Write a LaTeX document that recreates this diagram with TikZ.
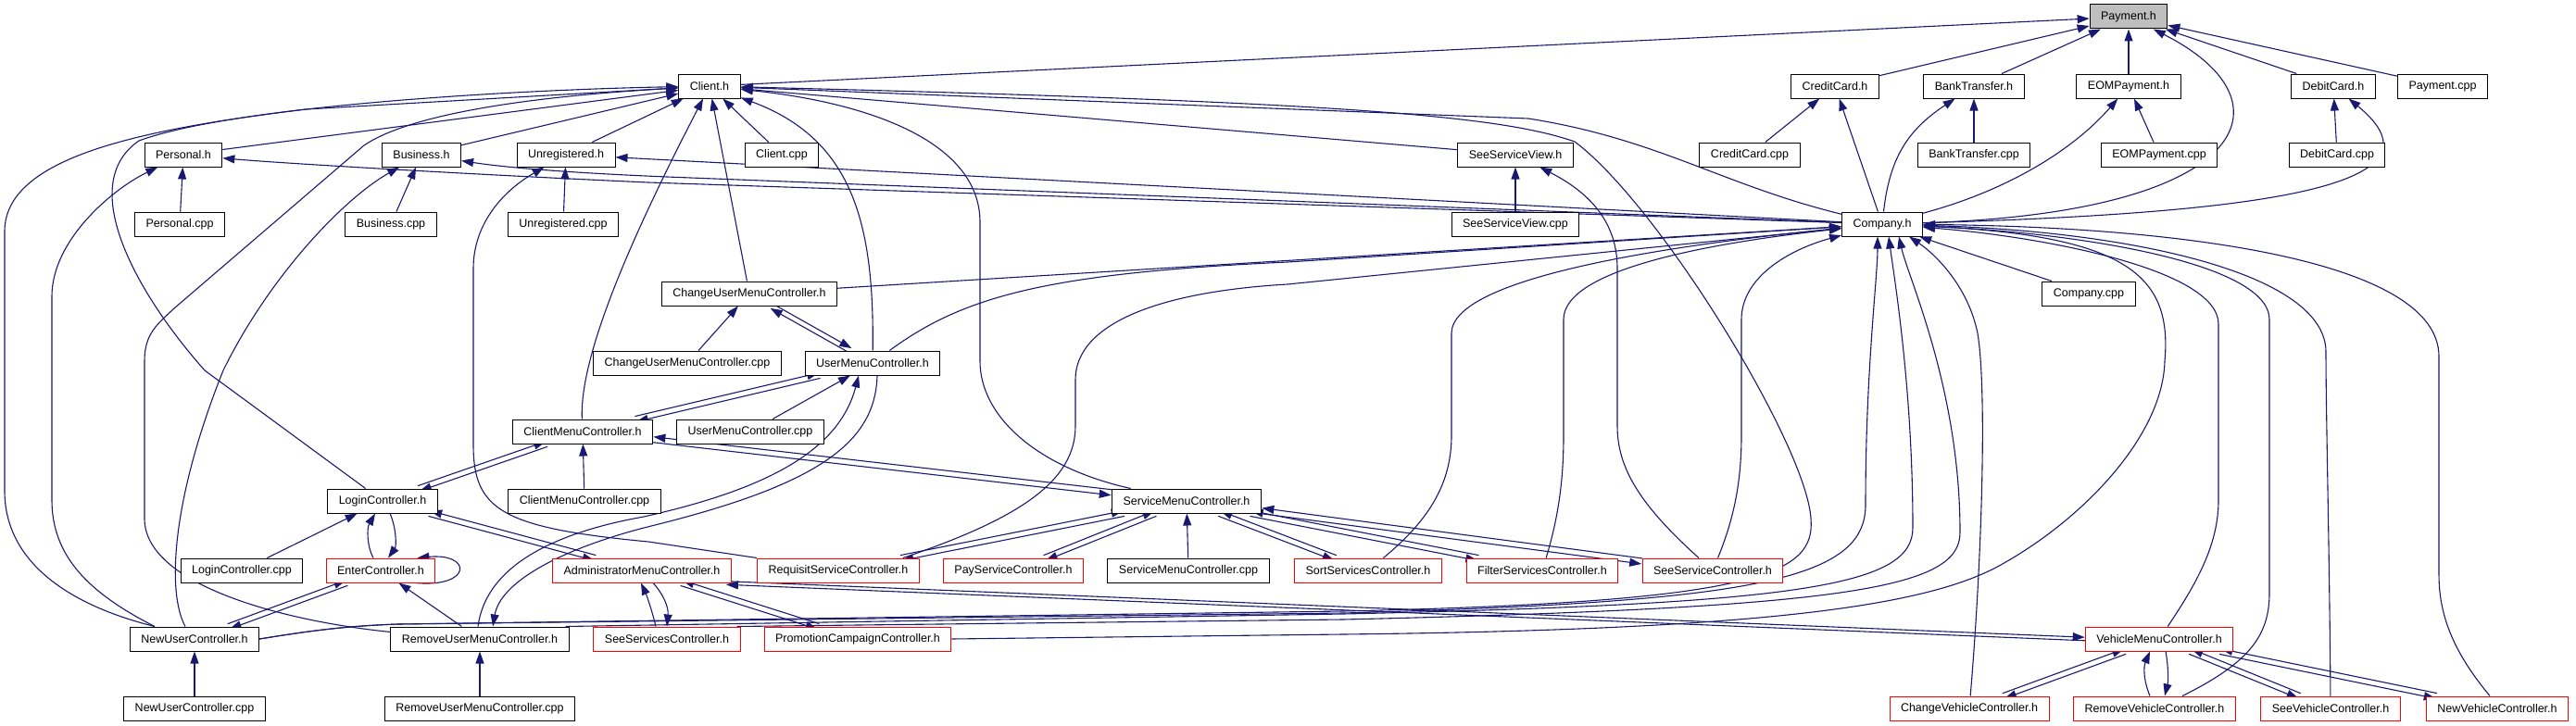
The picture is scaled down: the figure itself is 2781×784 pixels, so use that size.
\documentclass[tikz,border=0pt]{standalone}
\usepackage{fontspec}
\setmainfont{Liberation Sans}
\usetikzlibrary{arrows.meta}
\definecolor{edgeblue}{RGB}{25,25,112}
\definecolor{truncred}{RGB}{255,0,0}
\definecolor{curgray}{RGB}{191,191,191}
\pgfdeclarelayer{edges}
\pgfsetlayers{edges,main}

\begin{document}
\begin{tikzpicture}[
    x=1pt, y=-1pt,
    hfile/.style={draw=black, fill=white, line width=1pt, minimum height=26pt, inner xsep=12pt, inner ysep=0pt, font=\fontsize{12.5}{15}\selectfont},
    redfile/.style={hfile, draw=truncred},
    mainfile/.style={hfile, fill=curgray},
    incl/.style={-{Triangle[length=13pt,width=9pt]}, draw=edgeblue, line width=1.1pt}
  ]
  \useasboundingbox (0,0) rectangle (2781,784);

  \node[mainfile] (paymenth) at (2298,18) {Payment.h};

  \node[hfile] (clienth) at (766,93) {Client.h};
  \node[hfile] (creditcardh) at (1981,93) {CreditCard.h};
  \node[hfile] (banktransferh) at (2131,93) {BankTransfer.h};
  \node[hfile] (eompaymenth) at (2298,93) {EOMPayment.h};
  \node[hfile] (debitcardh) at (2519,93) {DebitCard.h};
  \node[hfile] (paymentcpp) at (2637,93) {Payment.cpp};

  \node[hfile] (personalh) at (198,167) {Personal.h};
  \node[hfile] (businessh) at (455,167) {Business.h};
  \node[hfile] (unregh) at (611,167) {Unregistered.h};
  \node[hfile] (clientcpp) at (844,167) {Client.cpp};
  \node[hfile] (seeviewh) at (1636,167) {SeeServiceView.h};
  \node[hfile] (creditcardcpp) at (1889,167) {CreditCard.cpp};
  \node[hfile] (banktransfercpp) at (2131,167) {BankTransfer.cpp};
  \node[hfile] (eompaymentcpp) at (2331,167) {EOMPayment.cpp};
  \node[hfile] (debitcardcpp) at (2523,167) {DebitCard.cpp};

  \node[hfile] (personalcpp) at (194,242) {Personal.cpp};
  \node[hfile] (businesscpp) at (422,242) {Business.cpp};
  \node[hfile] (unregcpp) at (608,242) {Unregistered.cpp};
  \node[hfile] (seeviewcpp) at (1636,242) {SeeServiceView.cpp};
  \node[hfile] (companyh) at (2032,242) {Company.h};

  \node[hfile] (chusermenuh) at (809,317) {ChangeUserMenuController.h};
  \node[hfile] (companycpp) at (2255,317) {Company.cpp};

  \node[hfile] (chusermenucpp) at (742,392) {ChangeUserMenuController.cpp};
  \node[hfile] (usermenuh) at (942,392) {UserMenuController.h};

  \node[hfile] (clientmenuh) at (629,466) {ClientMenuController.h};
  \node[hfile] (usermenucpp) at (810,466) {UserMenuController.cpp};

  \node[hfile] (loginh) at (413,541) {LoginController.h};
  \node[hfile] (clientmenucpp) at (631,541) {ClientMenuController.cpp};
  \node[hfile] (servicemenuh) at (1281,541) {ServiceMenuController.h};

  \node[hfile] (logincpp) at (261,616) {LoginController.cpp};
  \node[redfile] (enterh) at (411,616) {EnterController.h};
  \node[redfile] (adminh) at (693,616) {AdministratorMenuController.h};
  \node[redfile] (requisith) at (905,616) {RequisitServiceController.h};
  \node[redfile] (payserviceh) at (1094,616) {PayServiceController.h};
  \node[hfile] (servicemenucpp) at (1283,616) {ServiceMenuController.cpp};
  \node[redfile] (sorth) at (1477,616) {SortServicesController.h};
  \node[redfile] (filterh) at (1665,616) {FilterServicesController.h};
  \node[redfile] (seeserviceh) at (1849,616) {SeeServiceController.h};

  \node[hfile] (newuserh) at (210,690) {NewUserController.h};
  \node[hfile] (removeuserh) at (518,690) {RemoveUserMenuController.h};
  \node[redfile] (seeservicesh) at (720,690) {SeeServicesController.h};
  \node[redfile] (promotionh) at (926,690) {PromotionCampaignController.h};
  \node[redfile] (vehiclemenuh) at (2331,690) {VehicleMenuController.h};

  \node[hfile] (newusercpp) at (210,765) {NewUserController.cpp};
  \node[hfile] (removeusercpp) at (518,765) {RemoveUserMenuController.cpp};
  \node[redfile] (changevehh) at (2126,765) {ChangeVehicleController.h};
  \node[redfile] (removevehh) at (2326,765) {RemoveVehicleController.h};
  \node[redfile] (seevehh) at (2516,765) {SeeVehicleController.h};
  \node[redfile] (newvehh) at (2696,765) {NewVehicleController.h};

  \begin{pgfonlayer}{edges}
  % payment headers
  \draw[incl] (clienth) -- (paymenth);
  \draw[incl] (creditcardh) -- (paymenth);
  \draw[incl] (banktransferh) -- (paymenth);
  \draw[incl] (eompaymenth) -- (paymenth);
  \draw[incl] (debitcardh) -- (paymenth);
  \draw[incl] (paymentcpp) -- (paymenth);
  \draw[incl] (companyh) .. controls (2430,230) and (2480,110) .. (paymenth);
  \draw[incl] (creditcardcpp) -- (creditcardh);
  \draw[incl] (companyh) -- (creditcardh);
  \draw[incl] (banktransfercpp) -- (banktransferh);
  \draw[incl] (companyh) .. controls (2040,170) and (2060,140) .. (banktransferh);
  \draw[incl] (eompaymentcpp) -- (eompaymenth);
  \draw[incl] (companyh) .. controls (2170,205) and (2240,160) .. (eompaymenth);
  \draw[incl] (debitcardcpp) -- (debitcardh);
  \draw[incl] (companyh) .. controls (2450,230) and (2650,200) .. (debitcardh);

  % client
  \draw[incl] (personalh) -- (clienth);
  \draw[incl] (businessh) -- (clienth);
  \draw[incl] (unregh) -- (clienth);
  \draw[incl] (clientcpp) -- (clienth);
  \draw[incl] (chusermenuh) -- (clienth);
  \draw[incl] (usermenuh) .. controls (944,240) and (920,150) .. (clienth);
  \draw[incl] (clientmenuh) .. controls (625,380) and (690,240) .. (clienth);
  \draw[incl] (loginh) -- (221,400) .. controls (150,320) and (80,200) .. (150,152) .. controls (250,115) and (550,97) .. (clienth);
  \draw[incl] ([xshift=-43pt]newuserh.north) .. controls (80,655) and (5,610) .. (5,530) -- (5,250) .. controls (5,170) and (150,140) .. (330,118) -- (clienth);
  \draw[incl] ([yshift=-6pt]removeuserh.north west) .. controls (300,670) and (156,630) .. (156,560) -- (156,390) .. controls (156,360) and (170,350) .. (188,333) -- (393,157) .. controls (440,125) and (560,105) .. (clienth);
  \draw[incl] (servicemenuh) .. controls (1120,505) and (1058,450) .. (1058,390) -- (1058,240) .. controls (1058,150) and (930,110) .. (clienth);
  \draw[incl] (seeviewh) -- (clienth);
  \draw[incl] (companyh) .. controls (1860,200) and (1790,150) .. (1650,128) -- (clienth);
  \draw[incl] (newuserh.east) .. controls (330,682) and (370,676) .. (430,674) -- (1450,660) .. controls (1900,650) and (1960,620) .. (1955,560) .. controls (1950,480) and (1790,220) .. (1700,153) .. controls (1620,125) and (1450,110) .. (clienth);

  % company
  \draw[incl] (companyh) -- (700,197) .. controls (500,188) and (300,176) .. (personalh);
  \draw[incl] (companyh) -- (720,191) .. controls (600,186) and (540,180) .. (businessh);
  \draw[incl] (companyh) -- (unregh);
  \draw[incl] (personalcpp) -- (personalh);
  \draw[incl] (businesscpp) -- (businessh);
  \draw[incl] (unregcpp) -- (unregh);
  \draw[incl] ([xshift=-43pt]newuserh.north) .. controls (95,640) and (56,600) .. (56,540) -- (56,320) .. controls (56,260) and (120,205) .. (personalh);
  \draw[incl] ([xshift=-10pt]newuserh.north) .. controls (180,640) and (185,540) .. (241,400) .. controls (290,300) and (370,215) .. (businessh);
  \draw[incl] (requisith.north west) -- (700,585) .. controls (540,570) and (511,550) .. (511,480) -- (511,290) .. controls (511,240) and (545,205) .. (unregh);
  \draw[incl] (companycpp) -- (companyh);
  \draw[incl] (chusermenuh) -- (companyh);
  \draw[incl] (usermenuh) .. controls (1040,320) and (1130,295) .. (1390,283) -- (companyh);
  \draw[incl] ([xshift=-18pt]requisith.north east) .. controls (1100,560) and (1161,520) .. (1161,460) -- (1161,410) .. controls (1161,350) and (1250,315) .. (1390,307) -- (companyh);
  \draw[incl] (sorth) .. controls (1545,560) and (1567,520) .. (1567,470) -- (1567,360) .. controls (1567,300) and (1800,265) .. (companyh);
  \draw[incl] (filterh) .. controls (1682,560) and (1688,520) .. (1688,470) -- (1688,345) .. controls (1688,290) and (1850,262) .. (companyh);
  \draw[incl] (seeserviceh) .. controls (1872,560) and (1880,520) .. (1880,470) -- (1880,345) .. controls (1880,300) and (1930,270) .. (companyh);
  \draw[incl] (seeserviceh) .. controls (1770,545) and (1746,505) .. (1746,460) -- (1746,290) .. controls (1746,235) and (1710,205) .. (seeviewh);
  \draw[incl] (seeviewcpp) -- (seeviewh);
  \draw[incl] (changevehh) .. controls (2140,600) and (2145,420) .. (2135,360) .. controls (2125,310) and (2090,275) .. ([xshift=29pt]companyh.south);
  \draw[incl] (vehiclemenuh) .. controls (2375,625) and (2395,585) .. (2395,540) -- (2395,350) .. controls (2395,290) and (2200,255) .. (companyh);
  \draw[incl] ([xshift=30pt]removevehh.north) .. controls (2430,715) and (2450,685) .. (2450,640) -- (2450,345) .. controls (2450,285) and (2250,252) .. (companyh);
  \draw[incl] (seevehh) .. controls (2515,600) and (2511,450) .. (2511,380) .. controls (2511,295) and (2300,250) .. (companyh);
  \draw[incl] ([xshift=-8pt]newvehh.north) .. controls (2645,700) and (2633,660) .. (2633,620) -- (2633,385) .. controls (2633,280) and (2350,245) .. (companyh);
  \draw[incl] (promotionh.east) -- (1450,685) .. controls (1900,680) and (2080,655) .. (2160,610) .. controls (2250,560) and (2335,470) .. (2337,390) .. controls (2345,300) and (2300,255) .. (companyh);
  \draw[incl] (newuserh.east) .. controls (330,682) and (370,676) .. (430,674) -- (1450,662) .. controls (1900,650) and (2014,625) .. (2014,545) .. controls (2014,400) and (2027,300) .. ([xshift=-5pt]companyh.south);
  \draw[incl] ([xshift=-4pt]removeuserh.north east) -- (1450,663) .. controls (1950,652) and (2065,632) .. (2065,570) .. controls (2065,420) and (2045,300) .. ([xshift=7pt]companyh.south);
  \draw[incl] ([xshift=-4pt]seeservicesh.north east) -- (1450,669) .. controls (2000,656) and (2116,635) .. (2116,575) .. controls (2116,420) and (2060,300) .. ([xshift=18pt]companyh.south);

  % controllers
  \draw[incl] (chusermenucpp) -- (chusermenuh);
  \draw[incl, transform canvas={shift={(-1.3,2.4)}}] (usermenuh) -- (chusermenuh);
  \draw[incl, transform canvas={shift={(1.3,-2.4)}}] (chusermenuh) -- (usermenuh);
  \draw[incl] (usermenucpp) -- (usermenuh);
  \draw[incl, transform canvas={shift={(-0.7,-2.9)}}] (clientmenuh) -- (usermenuh);
  \draw[incl, transform canvas={shift={(0.7,2.9)}}] (usermenuh) -- (clientmenuh);
  \draw[incl] ([xshift=-2pt]removeuserh.north) .. controls (525,610) and (600,575) .. (695,558) .. controls (820,530) and (905,490) .. ([xshift=-15pt]usermenuh.south);
  \draw[incl] ([xshift=5pt]usermenuh.south) .. controls (945,480) and (880,525) .. (695,570) .. controls (600,595) and (540,630) .. ([xshift=14pt]removeuserh.north);
  \draw[incl] (clientmenucpp) -- (clientmenuh);
  \draw[incl, transform canvas={shift={(-1,-2.8)}}] (loginh) -- (clientmenuh);
  \draw[incl, transform canvas={shift={(1,2.8)}}] (clientmenuh) -- (loginh);
  \draw[incl, transform canvas={shift={(0.3,-3)}}] (servicemenuh) -- (clientmenuh);
  \draw[incl, transform canvas={shift={(-0.3,3)}}] (clientmenuh) -- (servicemenuh);
  \draw[incl] (logincpp) -- (loginh);
  \draw[incl] ([xshift=-8pt]enterh.north) .. controls (396,590) and (396,570) .. ([xshift=-8pt]loginh.south);
  \draw[incl] ([xshift=8pt]loginh.south) .. controls (428,570) and (428,590) .. ([xshift=8pt]enterh.north);
  \draw[incl] ([xshift=-22pt]enterh.south east) .. controls (510,635) and (510,597) .. ([xshift=-20pt]enterh.north east);
  \draw[incl, transform canvas={shift={(0.8,-2.9)}}] (adminh) -- (loginh);
  \draw[incl, transform canvas={shift={(-0.8,2.9)}}] (loginh) -- (adminh);
  \draw[incl, transform canvas={shift={(-1,-2.8)}}] (newuserh) -- (enterh);
  \draw[incl, transform canvas={shift={(1,2.8)}}] (enterh) -- (newuserh);
  \draw[incl] (removeuserh) -- (enterh);
  \draw[incl] (newusercpp) -- (newuserh);
  \draw[incl] (removeusercpp) -- (removeuserh);
  \draw[incl] ([xshift=-12pt]seeservicesh.north) .. controls (704,660) and (699,645) .. ([xshift=-1pt]adminh.south);
  \draw[incl] ([xshift=12pt]adminh.south) .. controls (715,640) and (722,655) .. (seeservicesh.north);
  \draw[incl, transform canvas={shift={(0.9,-2.9)}}] (promotionh) -- (adminh);
  \draw[incl, transform canvas={shift={(-0.9,2.9)}}] (adminh) -- (promotionh);
  \draw[incl, transform canvas={shift={(0,-1.8)}}] ([xshift=-6pt]adminh.south east) -- (vehiclemenuh.west);
  \draw[incl, transform canvas={shift={(0,1.8)}}] (vehiclemenuh.west) -- ([xshift=-6pt]adminh.south east);

  \draw[incl] (servicemenucpp) -- (servicemenuh);
  \draw[incl, transform canvas={shift={(-0.6,-2.9)}}] (requisith) -- (servicemenuh);
  \draw[incl, transform canvas={shift={(0.6,2.9)}}] (servicemenuh) -- (requisith);
  \draw[incl, transform canvas={shift={(-1.1,-2.8)}}] (payserviceh) -- (servicemenuh);
  \draw[incl, transform canvas={shift={(1.1,2.8)}}] (servicemenuh) -- (payserviceh);
  \draw[incl, transform canvas={shift={(1.1,-2.8)}}] (sorth) -- (servicemenuh);
  \draw[incl, transform canvas={shift={(-1.1,2.8)}}] (servicemenuh) -- (sorth);
  \draw[incl, transform canvas={shift={(0.6,-2.9)}}] (filterh) -- (servicemenuh);
  \draw[incl, transform canvas={shift={(-0.6,2.9)}}] (servicemenuh) -- (filterh);
  \draw[incl, transform canvas={shift={(0.4,-3)}}] (seeserviceh) -- (servicemenuh);
  \draw[incl, transform canvas={shift={(-0.4,3)}}] (servicemenuh) -- (seeserviceh);

  \draw[incl, transform canvas={shift={(-1,-2.8)}}] (changevehh) -- (vehiclemenuh);
  \draw[incl, transform canvas={shift={(1,2.8)}}] (vehiclemenuh) -- (changevehh);
  \draw[incl] ([xshift=-5pt]removevehh.north) .. controls (2314,735) and (2314,720) .. ([xshift=-10pt]vehiclemenuh.south);
  \draw[incl] ([xshift=7pt]vehiclemenuh.south) .. controls (2341,720) and (2341,735) .. ([xshift=11pt]removevehh.north);
  \draw[incl, transform canvas={shift={(1.1,-2.8)}}] (seevehh) -- (vehiclemenuh);
  \draw[incl, transform canvas={shift={(-1.1,2.8)}}] (vehiclemenuh) -- (seevehh);
  \draw[incl, transform canvas={shift={(0.6,-2.9)}}] (newvehh) -- (vehiclemenuh);
  \draw[incl, transform canvas={shift={(-0.6,2.9)}}] (vehiclemenuh) -- (newvehh);
  \end{pgfonlayer}
\end{tikzpicture}
\end{document}
